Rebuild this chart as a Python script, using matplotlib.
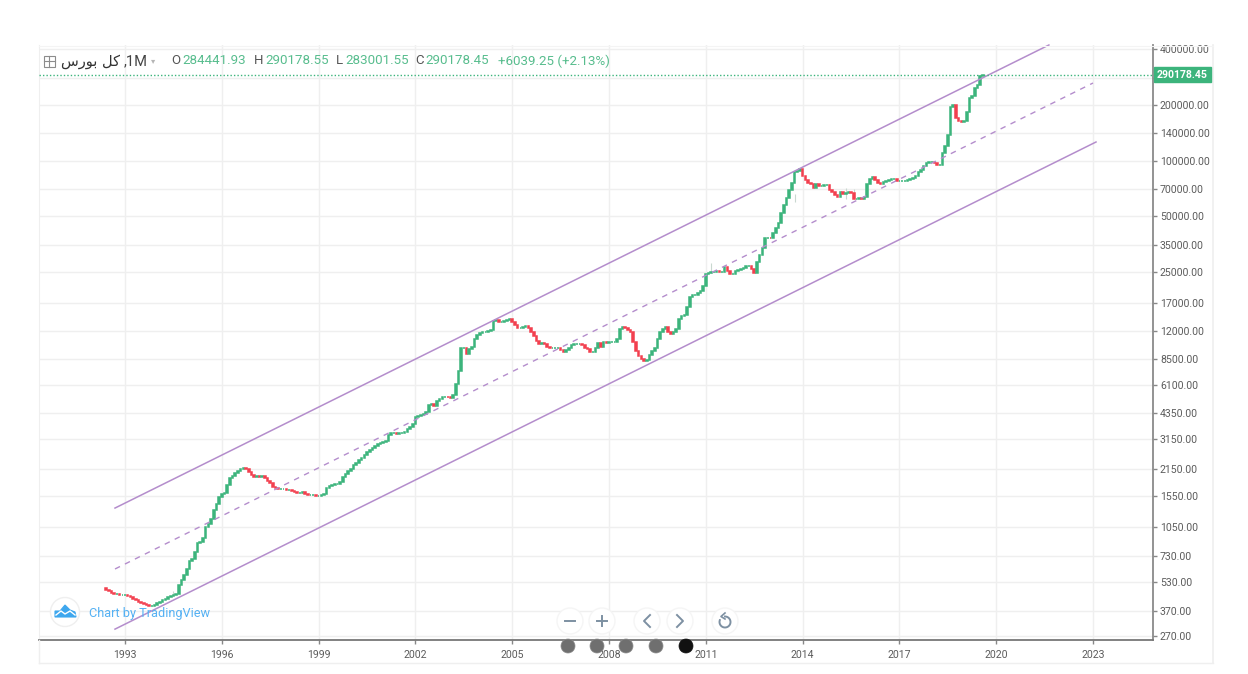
import matplotlib
matplotlib.use('Agg')
import matplotlib.pyplot as plt
from matplotlib.patches import Circle, Rectangle, PathPatch
from matplotlib.path import Path
import numpy as np

# monthly closes, first candle is Jun 1992
c1992 = [480, 475, 462, 457, 457, 452, 452]
c1993 = [452, 446, 441, 430, 425, 414, 409, 405, 400, 395, 395, 400]
c1994 = [409, 414, 425, 430, 441, 446, 452, 457, 512, 545, 580, 625]
c1995 = [689, 706, 770, 861, 872, 917, 1053, 1094, 1165, 1303, 1404, 1521]
c1996 = [1579, 1599, 1768, 1930, 1979, 2060, 2112, 2166, 2193, 2166, 2086, 2010]
c1997 = [1960, 1979, 1960, 1979, 1930, 1860, 1815, 1726, 1705, 1684, 1684, 1684]
c1998 = [1660, 1660, 1640, 1620, 1600, 1600, 1615, 1579, 1559, 1559, 1559, 1540]
c1999 = [1540, 1559, 1579, 1705, 1748, 1768, 1792, 1792, 1837, 1960, 2033, 2112]
c2000 = [2166, 2266, 2325, 2412, 2472, 2567, 2664, 2731, 2800, 2870, 2940, 2980]
c2001 = [3014, 3060, 3290, 3370, 3370, 3330, 3370, 3370, 3412, 3540, 3630, 3770]
c2002 = [4110, 4160, 4213, 4266, 4373, 4790, 4850, 4730, 5057, 5185, 5258, 5315]
c2003 = [5258, 5193, 5390, 6180, 7260, 9665, 9665, 8970, 9545, 9900, 10940, 11360]
c2004 = [11650, 11800, 11800, 11950, 12100, 13530, 13700, 13370, 13370, 13530, 13700, 13875]
c2005 = [13370, 12870, 12400, 12400, 12550, 12710, 12400, 11800, 11240, 10570, 10200, 10320]
c2006 = [10160, 9900, 9665, 9665, 9665, 9665, 9430, 9195, 9430, 9665, 10040, 10160]
c2007 = [10160, 10160, 10040, 9780, 9545, 9195, 9195, 9780, 10290, 9900, 10420, 10290]
c2008 = [10420, 10420, 10420, 10820, 12250, 12700, 12400, 12100, 11800, 10420, 9315, 8750]
c2009 = [8450, 8250, 8350, 8860, 9315, 9780, 10820, 11800, 12250, 12550, 11800, 11500]
c2010 = [11800, 12250, 13875, 14390, 14570, 16100, 18230, 18700, 18700, 19170, 19650, 21100]
c2011 = [24500, 24800, 25110, 25110, 25420, 25110, 25110, 26700, 25420, 24500, 24500, 25420]
c2012 = [25740, 26060, 26390, 27050, 27050, 26060, 24800, 28420, 31020, 33800, 38300, 38300]
c2013 = [38000, 40700, 43100, 46000, 52200, 57700, 62800, 68900, 75600, 86750, 88000, 90200]
c2014 = [82600, 78500, 75400, 74500, 70800, 74500, 72600, 72600, 73500, 73500, 69000, 67300]
c2015 = [65200, 63600, 67300, 65700, 66500, 67300, 66500, 62000, 62000, 62800, 62000, 63600]
c2016 = [74500, 79400, 81500, 78500, 75400, 74500, 76400, 77400, 78500, 79400, 79400, 77400]
c2017 = [77400, 77400, 77400, 78500, 79400, 80400, 82600, 86750, 89000, 93500, 97000, 98200]
c2018 = [98200, 97000, 95000, 95000, 109800, 119900, 137400, 194600, 199500, 169900, 163600, 161500]
c2019 = [162500, 182000, 217000, 222500, 246000, 255000, 284441.93, 290178.45]

closes = (c1992 + c1993 + c1994 + c1995 + c1996 + c1997 + c1998 + c1999 + c2000
          + c2001 + c2002 + c2003 + c2004 + c2005 + c2006 + c2007 + c2008 + c2009
          + c2010 + c2011 + c2012 + c2013 + c2014 + c2015 + c2016 + c2017 + c2018 + c2019)
first_open = 490

# thin wicks that stick out (year, low, high)
wick_year = [1994.5, 2011.17, 2013.75, 2015.33, 2015.58]
wick_low = [452, 24800, 60000, 62000, 63000]
wick_high = [475, 28000, 66000, 71500, 70000]

# channel lines (year, price)
channel_x = [1992.69, 2021.63]
channel_upper = [1329, 420500]
mid_x = [1992.69, 2022.997]
channel_mid = [623, 262100]
low_x = [1992.69, 2023.09]
channel_lower = [295, 125900]

year_ticks = [1993, 1996, 1999, 2002, 2005, 2008, 2011, 2014, 2017, 2020, 2023]
price_ticks = [400000, 280000, 200000, 140000, 100000, 70000, 50000, 35000, 25000, 17000,
               12000, 8500, 6100, 4350, 3150, 2150, 1550, 1050, 730, 530, 370, 270]
last_price = 290178.45

up_col = '#3cb47c'
down_col = '#f2404f'
chan_col = '#b48dcc'
grid_col = '#efefef'
text_col = '#5c5c5c'

plt.rcParams['font.family'] = ['Roboto', 'DejaVu Sans']

W, H = 1248, 674
fig = plt.figure(figsize=(W / 100, H / 100), dpi=100, facecolor='white')

# axes box in pixels: x 39-1153, y 45-640
ax = fig.add_axes([39 / W, 1 - 640 / H, (1153 - 39) / W, (640 - 45) / H])
ax.set_yscale('log')
ax.set_xlim(1990.335, 2024.856)
ax.set_ylim(257.7, 420500)

ax.set_xticks(year_ticks)
ax.set_xticklabels([str(y) for y in year_ticks])
ax.set_yticks(price_ticks)
ax.set_yticklabels(['' if p == 280000 else '%.2f' % p for p in price_ticks])
ax.minorticks_off()
ax.yaxis.tick_right()
ax.tick_params(axis='y', length=3, width=1, color='#888888', labelsize=7.6,
               labelcolor=text_col, pad=2)
ax.tick_params(axis='x', length=3, width=1, color='#888888', labelsize=7.6,
               labelcolor=text_col, pad=4)
ax.grid(True, color=grid_col, lw=1.0)
ax.set_axisbelow(True)

ax.spines['top'].set_visible(False)
ax.spines['left'].set_color(grid_col)
ax.spines['right'].set_color('#8a8a8a')
ax.spines['right'].set_linewidth(1.3)
ax.spines['bottom'].set_color('#777777')
ax.spines['bottom'].set_linewidth(1.3)

# candles, open is the close before
closes = np.array(closes, dtype=float)
opens = np.r_[first_open, closes[:-1]]
xs = 1992 + 5 / 12 + np.arange(len(closes)) / 12
cols = [up_col if c >= o else down_col for o, c in zip(opens, closes)]
bot = np.minimum(opens, closes)
top = np.maximum(opens, closes)
ax.vlines(wick_year, wick_low, wick_high, color='#c9d8d0', lw=0.8, zorder=2)
ax.bar(xs, top - bot, bottom=bot, width=0.05, color=cols, edgecolor=cols, lw=1.1, zorder=3)

ax.plot(channel_x, channel_upper, color=chan_col, lw=1.1, zorder=4, clip_on=False)
ax.plot(mid_x, channel_mid, color=chan_col, lw=1.0, ls=(0, (4, 4)), zorder=4)
ax.plot(low_x, channel_lower, color=chan_col, lw=1.1, zorder=4)
ax.axhline(last_price, color=up_col, lw=1, ls=(0, (1, 1.5)), zorder=4)

# everything else is placed in pixels on a full figure overlay
ov = fig.add_axes([0, 0, 1, 1], facecolor='none')
ov.set_xlim(0, W)
ov.set_ylim(H, 0)
ov.axis('off')

# outer frame
ov.plot([1213, 1213], [45, 663], color=grid_col, lw=1.2)
ov.plot([39, 1213], [663, 663], color=grid_col, lw=1)
ov.plot([39, 39], [640, 663], color=grid_col, lw=1)
ov.plot([39, 1213], [46, 46], color='#f4f4f4', lw=0.8)

# price label
ov.add_patch(Rectangle((1154, 67), 57, 15, color=up_col, zorder=5))
ov.text(1182.5, 74.8, '%.2f' % last_price, color='white', fontsize=7.6, weight='bold',
        ha='center', va='center', zorder=6)

# header
ov.add_patch(Rectangle((44, 56), 10.5, 10.5, fc='none', ec='#8c8c8c', lw=0.8))
ov.plot([44, 54.5], [61.2, 61.2], color='#8c8c8c', lw=0.8)
ov.plot([49.2, 49.2], [56, 66.5], color='#8c8c8c', lw=0.8)
ov.text(61, 61.5, '\ufeb1\ufead\ufeee\ufe91 \ufede\ufedb', family=['DejaVu Sans'],
        fontsize=10.5, color='#333333', va='center')
ov.text(124, 61.5, ',1M', fontsize=10.5, color='#444444', va='center', ha='left')
ov.text(151, 61, '\u25be', fontsize=6, color='#b5b5b5', va='center', ha='left', family=['DejaVu Sans'])

head_labels = ['O', 'H', 'L', 'C']
head_label_x = [171, 254, 336, 415]
head_values = ['284441.93', '290178.55', '283001.55', '290178.45']
head_value_x = [182, 265, 345, 425]
for lab, lx, val, vx in zip(head_labels, head_label_x, head_values, head_value_x):
    ov.text(lx, 61, lab, fontsize=9.5, color='#555555', va='center')
    ov.text(vx, 61, val, fontsize=9.6, color='#58bd8e', va='center')
ov.text(498, 61, '+6039.25 (+2.13%)', fontsize=9.6, color='#58bd8e', va='center')

# tradingview logo
ov.add_patch(Circle((65, 612), 14.5, fc='white', ec='#efefef', lw=1, zorder=5))
cloud = Path([(55, 617), (55, 611), (60, 611), (65, 605), (70, 610), (75, 612), (76, 617), (55, 617)],
             [Path.MOVETO] + [Path.LINETO] * 6 + [Path.CLOSEPOLY])
ov.add_patch(PathPatch(cloud, fc='#3ea7ee', ec='#3ea7ee', lw=0.8, zorder=6))
ov.plot([56, 61, 65, 70, 75], [615, 611, 614, 611, 615], color='white', lw=1, zorder=7)
ov.text(89, 613, 'Chart by TradingView', fontsize=9.2, color='#55b1f3', va='center', zorder=6)

# zoom/scroll buttons
btn_x = [570, 602, 647, 680, 725]
for bx in btn_x:
    ov.add_patch(Circle((bx, 621), 13, fc='white', ec='#f5f5f5', lw=1, zorder=5))
glyph = '#7d90a2'
ov.plot([565, 575], [621, 621], color=glyph, lw=1.4, zorder=6)
ov.plot([597, 607], [621, 621], color=glyph, lw=1.4, zorder=6)
ov.plot([602, 602], [616, 626], color=glyph, lw=1.4, zorder=6)
ov.plot([650, 644, 650], [615, 621, 627], color=glyph, lw=1.4, zorder=6)
ov.plot([677, 683, 677], [615, 621, 627], color=glyph, lw=1.4, zorder=6)
t = np.radians(np.arange(-90, 201, 10))
ov.plot(725 + 5.5 * np.cos(t), 622 + 5.5 * np.sin(t), color=glyph, lw=1.4, zorder=6)
ov.plot([725, 721, 725], [613, 616.5, 619], color=glyph, lw=1.2, zorder=6)

# slide dots
dot_x = [568, 597, 626, 656]
for dx in dot_x:
    ov.add_patch(Circle((dx, 646), 7, fc='#6f6f6f', ec='#8a8a8a', lw=0.5, zorder=5))
ov.add_patch(Circle((686, 646), 7, fc='#111111', ec='#111111', lw=0.5, zorder=5))

fig.savefig('out.png', dpi=100)
